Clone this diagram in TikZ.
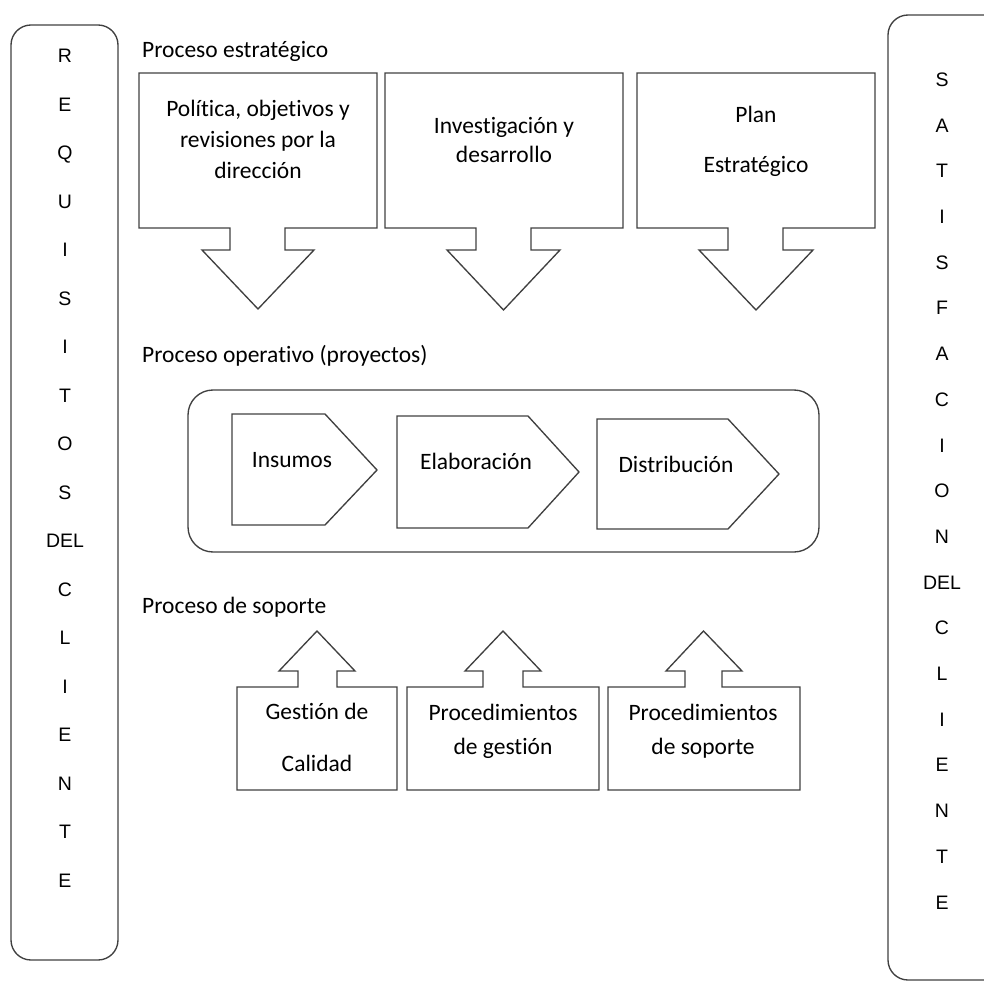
\documentclass[tikz,border=0pt]{standalone}
\usepackage{fontspec}
\setmainfont[Ligatures=NoCommon]{Carlito}
\newfontfamily\arialfont{Liberation Sans}
\usetikzlibrary{positioning}

\begin{document}
\begin{tikzpicture}[x=1pt, y=-1pt,
    every node/.style={inner sep=0pt, align=center, anchor=base,
                       font=\fontsize{23.5}{31}\selectfont},
    shapeline/.style={draw=black!75, line width=1.35pt, line join=miter},
    heading/.style={anchor=base west},
    column/.style={font=\arialfont\fontsize{19.5}{48.5}\selectfont}
  ]
  \useasboundingbox (0,0) rectangle (984,981);

  % side columns (nodes sit on the baseline of their last line)
  \draw[shapeline, rounded corners=20] (11,25) rectangle (118,960);
  \draw[shapeline, rounded corners=20] (888,15) rectangle (1010,980);
  \node[column] (req) at (65,887) {R\\E\\Q\\U\\I\\S\\I\\T\\O\\S\\DEL\\C\\L\\I\\E\\N\\T\\E};
  \node[column, font=\arialfont\fontsize{19.5}{45.7}\selectfont] (sat) at (942,909)
    {S\\A\\T\\I\\S\\F\\A\\C\\I\\O\\N\\DEL\\C\\L\\I\\E\\N\\T\\E};

  % strategic processes
  \node[heading] (estr) at (142,58) {Proceso estratégico};
  \draw[shapeline] (139,73) -- (377,73) -- (377,228) -- (285,228) -- (285,250)
    -- (314,250) -- (258,309) -- (202,250) -- (230,250) -- (230,228)
    -- (139,228) -- cycle;
  \draw[shapeline] (385,73) -- (623,73) -- (623,228) -- (531,228) -- (531,250)
    -- (560,250) -- (503.5,310) -- (447,250) -- (476,250) -- (476,228)
    -- (385,228) -- cycle;
  \draw[shapeline] (637,73) -- (875,73) -- (875,228) -- (783,228) -- (783,250)
    -- (813,250) -- (756,310) -- (699,250) -- (728,250) -- (728,228)
    -- (637,228) -- cycle;
  \node (pol) at (258,179) {Política, objetivos y\\revisiones por la\\dirección};
  \node[font=\fontsize{23.5}{29}\selectfont] (inv) at (504,163) {Investigación y\\desarrollo};
  \node[font=\fontsize{23.5}{50}\selectfont] (plan) at (756,173) {Plan\\Estratégico};

  % operative process
  \node[heading] (oper) at (142,362) {Proceso operativo (proyectos)};
  \draw[shapeline, rounded corners=25] (188,390) rectangle (819,552);
  \draw[shapeline] (232,414) -- (325,414) -- (377,470) -- (325,525) -- (232,525) -- cycle;
  \draw[shapeline] (397,416) -- (528,416) -- (579,472) -- (528,528) -- (397,528) -- cycle;
  \draw[shapeline] (597,419) -- (728,419) -- (779,474) -- (728,529) -- (597,529) -- cycle;
  \node (ins) at (292,467) {Insumos};
  \node (elab) at (476,469) {Elaboración};
  \node (dist) at (676,472) {Distribución};

  % support processes
  \node[heading] (sop) at (142,613) {Proceso de soporte};
  \draw[shapeline] (237,687) -- (298,687) -- (298,671) -- (279,671) -- (317,631)
    -- (355,671) -- (337,671) -- (337,687) -- (397,687) -- (397,790)
    -- (237,790) -- cycle;
  \draw[shapeline] (407,687) -- (483,687) -- (483,671) -- (465,671) -- (503,631)
    -- (541,671) -- (523,671) -- (523,687) -- (599,687) -- (599,790)
    -- (407,790) -- cycle;
  \draw[shapeline] (608,687) -- (685,687) -- (685,671) -- (666,671) -- (703.5,631)
    -- (742,671) -- (722,671) -- (722,687) -- (800,687) -- (800,790)
    -- (608,790) -- cycle;
  \node[font=\fontsize{23.5}{52}\selectfont] (cal) at (317,771) {Gestión de\\Calidad};
  \node[font=\fontsize{23.5}{34}\selectfont] (pgest) at (503,754) {Procedimientos\\de gestión};
  \node[font=\fontsize{23.5}{34}\selectfont] (psop) at (703,754) {Procedimientos\\de soporte};
\end{tikzpicture}
\end{document}
